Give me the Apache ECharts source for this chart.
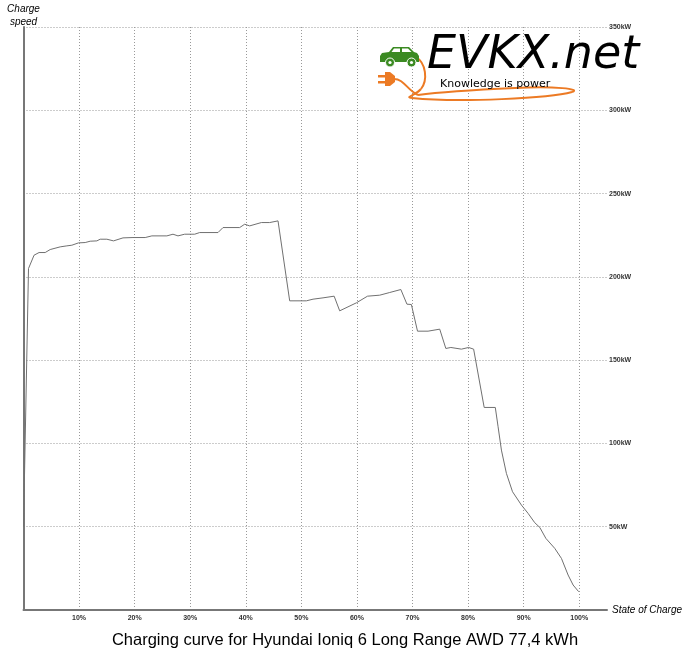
<!DOCTYPE html>
<html>
<head>
<meta charset="utf-8">
<script src="https://cdn.jsdelivr.net/npm/echarts@6/dist/echarts.min.js"></script>
<style>
html,body{margin:0;padding:0;background:#fff;}
#chart{width:690px;height:651px;}
</style>
</head>
<body>
<div id="chart"></div>
<script>
// State of charge (%) and charging power (kW)
var soc = [0, 0.9, 1.9, 2.8, 3.9, 4.8, 6.6, 7.8, 8.7, 9.9, 11.1, 12.0, 13.2, 13.8, 15.0, 16.2, 17.9, 19.7, 21.9, 23.1, 25.8, 26.9, 27.8, 29.0, 30.8, 31.7, 35.0, 35.9, 38.9, 39.8, 40.7, 42.8, 44.3, 45.8, 47.9, 50.9, 52.1, 53.9, 55.9, 56.9, 59.9, 61.9, 64.1, 65.9, 67.9, 69.0, 69.8, 70.9, 72.8, 74.9, 76.0, 76.9, 78.8, 80.1, 81.0, 82.9, 84.9, 85.4, 86.0, 86.9, 88.0, 89.6, 90.8, 92.0, 92.9, 94.0, 95.6, 96.8, 98.0, 98.9, 99.9];
var power = [50, 205, 213, 214.6, 214.6, 216.4, 218, 218.6, 219, 220.4, 220.6, 221.4, 221.6, 222.6, 222.6, 221.6, 223.4, 223.6, 223.6, 224.6, 224.6, 225.6, 224.6, 225.6, 225.6, 226.6, 226.6, 229.6, 229.6, 231.6, 230.6, 232.6, 232.6, 233.6, 185.6, 185.6, 186.6, 187.4, 188.4, 179.6, 184.4, 188.4, 189, 190.6, 192.4, 183.6, 183.4, 167.4, 167.4, 168.6, 157, 157.6, 156.6, 157.6, 156.6, 121.6, 121.6, 110, 96, 82, 71, 63, 58, 52.4, 49.6, 43, 37, 31, 21, 15, 11];
var xTickSuffix = '%';
var yTickSuffix = 'kW';
var titleText = 'Charging curve for Hyundai Ioniq 6 Long Range AWD 77,4 kWh';
var xName = 'State of Charge';
var yName = 'Charge\nspeed';

var chart = echarts.init(document.getElementById('chart'), null, {renderer: 'canvas'});
var data = soc.map(function (s, i) { return [s, power[i]]; });
var tickFont = {fontSize: 7, fontWeight: 'bold', color: '#333', fontFamily: 'Liberation Sans'};
var gridLine = {type: [1, 2], color: '#999', width: 1};
var orange = '#ec7a24';
var green = '#3b8a22';

function cable(p) {
  return {type: 'bezierCurve', shape: {x1: p[0], y1: p[1], cpx1: p[2], cpy1: p[3], cpx2: p[4], cpy2: p[5], x2: p[6], y2: p[7]},
    style: {fill: 'none', stroke: orange, lineWidth: 2}, z: 10};
}

var option = {
  backgroundColor: '#fff',
  animation: false,
  title: {
    text: titleText,
    left: 'center',
    top: 627,
    textStyle: {fontSize: 16.5, fontWeight: 'normal', color: '#000', fontFamily: 'Liberation Sans'}
  },
  grid: {left: 23.5, right: 83, top: 27, bottom: 41, containLabel: false},
  xAxis: {
    type: 'value', min: 0, max: 105, interval: 10,
    name: xName, nameLocation: 'end', nameGap: 5,
    nameTextStyle: {fontStyle: 'italic', fontSize: 10, color: '#000', fontFamily: 'Liberation Sans', verticalAlign: 'middle'},
    axisLine: {show: true, lineStyle: {color: '#777', width: 2, cap: 'round'}},
    axisTick: {show: false},
    axisLabel: Object.assign({margin: 5, formatter: function (v) { return (v > 0 && v <= 100) ? v + xTickSuffix : ''; }}, tickFont),
    splitLine: {show: true, showMinLine: false, showMaxLine: false, lineStyle: gridLine}
  },
  yAxis: [{
    type: 'value', min: 0, max: 350, interval: 50, position: 'right',
    axisLine: {show: false}, axisTick: {show: false},
    axisLabel: Object.assign({margin: 2, formatter: function (v) { return v > 0 ? v + yTickSuffix : ''; }}, tickFont),
    splitLine: {show: true, showMinLine: false, lineStyle: gridLine}
  }, {
    type: 'value', min: 0, max: 350, interval: 50, position: 'left',
    name: yName, nameLocation: 'end', nameGap: -2,
    nameTextStyle: {fontStyle: 'italic', fontSize: 10, lineHeight: 13, color: '#000', fontFamily: 'Liberation Sans', align: 'center'},
    axisLine: {show: true, lineStyle: {color: '#777', width: 2, cap: 'round'}},
    axisTick: {show: false}, axisLabel: {show: false}, splitLine: {show: false}
  }],
  series: [{
    type: 'line', data: data, showSymbol: false, symbol: 'none',
    lineStyle: {color: '#707070', width: 1}, z: 3
  }],
  graphic: [
    cable([416,57, 426,63, 428,80, 421,89]),
    cable([421,89, 415,96, 404,97, 412,98]),
    cable([412,98, 460,103, 550,98, 572,92]),
    cable([572,92, 582,89, 555,86, 515,88]),
    cable([515,88, 470,90, 440,92, 418,95]),
    cable([394,79, 404,79, 407,90, 418,95]),
    {type: 'rect', shape: {x: 378, y: 75, width: 8, height: 2.5}, style: {fill: orange}, z: 10},
    {type: 'rect', shape: {x: 378, y: 81, width: 8, height: 2.5}, style: {fill: orange}, z: 10},
    {type: 'polygon', shape: {points: [[385,72],[390,72],[395,76],[395,82],[390,86],[385,86]]}, style: {fill: orange}, z: 10},
    {type: 'polygon', shape: {points: [[380,56],[382,53],[389,52],[393,47],[409,47],[414,52],[417,53],[419,56],[419,62],[380,62]]}, style: {fill: green}, z: 10},
    {type: 'polygon', shape: {points: [[394,48.5],[400,48.5],[400,52],[391.5,52]]}, style: {fill: '#fff'}, z: 11},
    {type: 'polygon', shape: {points: [[402,48.5],[408,48.5],[411.5,52],[402,52]]}, style: {fill: '#fff'}, z: 11},
    {type: 'circle', shape: {cx: 390, cy: 62.5, r: 4.5}, style: {fill: green, stroke: '#fff', lineWidth: 1}, z: 11},
    {type: 'circle', shape: {cx: 411.5, cy: 62.5, r: 4.5}, style: {fill: green, stroke: '#fff', lineWidth: 1}, z: 11},
    {type: 'circle', shape: {cx: 390, cy: 62.5, r: 1.6}, style: {fill: '#fff'}, z: 12},
    {type: 'circle', shape: {cx: 411.5, cy: 62.5, r: 1.6}, style: {fill: '#fff'}, z: 12},
    {type: 'text', x: 427, y: 56, style: {text: 'EVKX.net', font: 'italic 46px "DejaVu Sans"', fill: '#000', textAlign: 'left', textVerticalAlign: 'middle'}, z: 10},
    {type: 'text', x: 440, y: 84.5, style: {text: 'Knowledge is power', font: '11px "DejaVu Sans"', fill: '#000', textAlign: 'left', textVerticalAlign: 'middle'}, z: 12}
  ]
};
chart.setOption(option);
</script>
</body>
</html>
